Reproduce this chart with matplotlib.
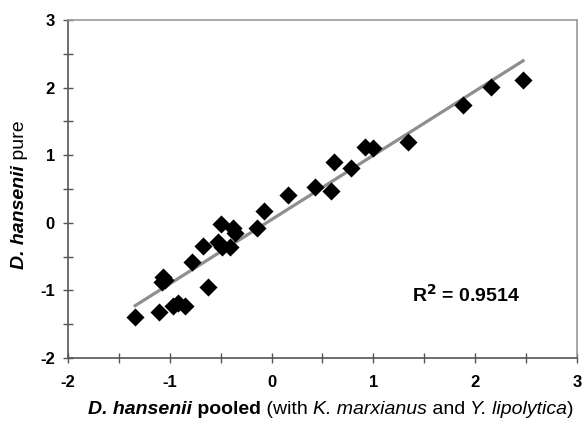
import numpy as np
import matplotlib
matplotlib.use("Agg")
import matplotlib.pyplot as plt
from matplotlib.ticker import MultipleLocator, FuncFormatter

# data
pooled = [-1.34, -1.11, -0.97, -0.92, -0.85, -1.07, -1.05, -1.08, -0.78, -0.67,
          -0.62, -0.50, -0.53, -0.49, -0.41, -0.38, -0.36, -0.14, -0.07, 0.16,
          0.43, 0.58, 0.61, 0.78, 0.92, 1.00, 1.34, 1.88, 2.16, 2.47]
pure = [-1.39, -1.32, -1.23, -1.19, -1.23, -0.80, -0.85, -0.88, -0.58, -0.34,
        -0.95, -0.02, -0.28, -0.36, -0.36, -0.08, -0.15, -0.08, 0.17, 0.41,
        0.53, 0.47, 0.90, 0.81, 1.12, 1.11, 1.20, 1.74, 2.01, 2.11]
r2_label = "0.9514"

plt.rcParams["font.family"] = ["Liberation Sans", "DejaVu Sans"]

fig = plt.figure(figsize=(5.85, 4.21), dpi=100)
ax = fig.add_axes([0.1162, 0.1496, 0.8701, 0.8029])

x = np.array(pooled)
y = np.array(pure)
slope, icpt = np.polyfit(x, y, 1)
xs = np.array([x.min(), x.max()])
ax.plot(xs, slope * xs + icpt, color="#8e8e8e", lw=2.3, zorder=2)
ax.scatter(x, y, marker="D", s=85, color="black", zorder=3, linewidths=0)

ax.set_xlim(-2, 3)
ax.set_ylim(-2, 3)
ax.xaxis.set_major_locator(MultipleLocator(0.5))
ax.yaxis.set_major_locator(MultipleLocator(0.5))
fmt = FuncFormatter(lambda v, p: f"{int(round(v))}" if abs(v - round(v)) < 1e-6 else "")
ax.xaxis.set_major_formatter(fmt)
ax.yaxis.set_major_formatter(fmt)
ax.tick_params(direction="inout", length=7, width=1, color="#555555", labelsize=12)
ax.tick_params(axis="x", pad=9)
ax.tick_params(axis="y", pad=6)
for lab in ax.get_xticklabels() + ax.get_yticklabels():
    lab.set_fontweight("bold")

for side in ["left", "bottom"]:
    ax.spines[side].set_color("#555555")
    ax.spines[side].set_linewidth(1.2)
for side in ["top", "right"]:
    ax.spines[side].set_color("#999999")
    ax.spines[side].set_linewidth(1.2)

ax.text(0.782, 0.186, "R$^\\mathbf{2}$ = " + r2_label, transform=ax.transAxes,
        fontsize=14, fontweight="bold", ha="center", va="center")

# x label built from pieces with mixed styles
pieces = [("D. hansenii", "italic", "bold"), (" pooled", "normal", "bold"),
          (" (with ", "normal", "normal"), ("K. marxianus", "italic", "normal"),
          (" and ", "normal", "normal"), ("Y. lipolytica", "italic", "normal"),
          (")", "normal", "normal")]
prev = fig.text(0.150, 0.016, pieces[0][0], fontsize=14, style=pieces[0][1],
                weight=pieces[0][2], ha="left", va="baseline")
for s, st, wt in pieces[1:]:
    prev = ax.annotate(s, xy=(1, 0), xycoords=prev, fontsize=14, style=st,
                       weight=wt, ha="left", va="bottom")

# y label
prev = fig.text(0.033, 0.362, "D. hansenii", fontsize=14, style="italic",
                weight="bold", rotation=90, ha="center", va="bottom")
ax.annotate(" pure", xy=(0.5, 1), xycoords=prev, fontsize=14,
            rotation=90, ha="center", va="bottom")

fig.savefig("out.png", dpi=100)
